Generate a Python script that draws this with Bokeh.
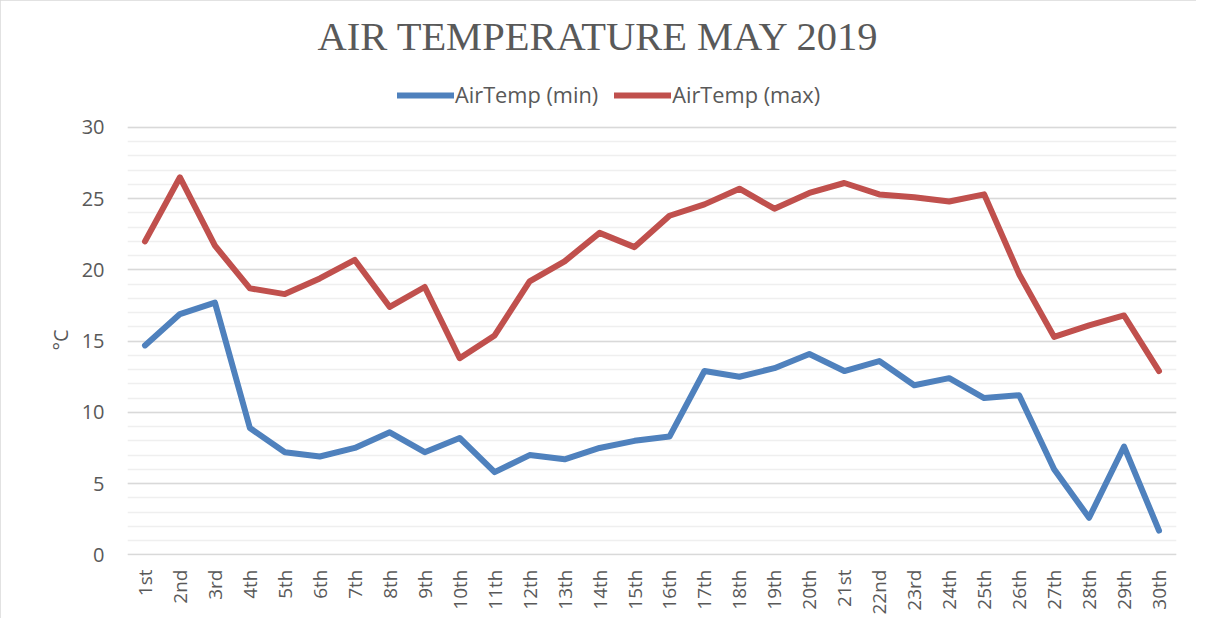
import math
from bokeh.plotting import figure
from bokeh.models import Legend, LegendItem, SingleIntervalTicker, Range1d, FactorRange, Title
from bokeh.embed import file_html
from bokeh.resources import INLINE

days = ["1st", "2nd", "3rd", "4th", "5th", "6th", "7th", "8th", "9th", "10th",
        "11th", "12th", "13th", "14th", "15th", "16th", "17th", "18th", "19th", "20th",
        "21st", "22nd", "23rd", "24th", "25th", "26th", "27th", "28th", "29th", "30th"]
air_min = [14.7, 16.9, 17.7, 8.9, 7.2, 6.9, 7.5, 8.6, 7.2, 8.2,
           5.8, 7.0, 6.7, 7.5, 8.0, 8.3, 12.9, 12.5, 13.1, 14.1,
           12.9, 13.6, 11.9, 12.4, 11.0, 11.2, 6.0, 2.6, 7.6, 1.7]
air_max = [22.0, 26.5, 21.7, 18.7, 18.3, 19.4, 20.7, 17.4, 18.8, 13.8,
           15.4, 19.2, 20.6, 22.6, 21.6, 23.8, 24.6, 25.7, 24.3, 25.4,
           26.1, 25.3, 25.1, 24.8, 25.3, 19.7, 15.3, 16.1, 16.8, 12.9]
series_names = ["AirTemp (min)", "AirTemp (max)"]
title_text = "AIR TEMPERATURE MAY 2019"
y_label = "°C"

TXT = "#595959"
FONT = "Open Sans"

p = figure(x_range=FactorRange(*days), y_range=Range1d(-0.05, 34.70),
           width=1196, height=618, output_backend="svg", toolbar_location=None,
           min_border_left=127, min_border_right=20, min_border_bottom=63,
           min_border_top=60, title=title_text)
p.styles = {"outline": "1px solid #d9d9d9", "outline-offset": "-1px"}
p.outline_line_color = None
p.background_fill_color = "white"
p.border_fill_color = "white"

p.title.align = "left"
p.title.offset = 190
p.title.standoff = 4
p.title.text_font = "Liberation Serif"
p.title.text_font_size = "40.5px"
p.title.text_font_style = "normal"
p.title.text_color = TXT

r_min = p.line(days, air_min, line_color="#4F81BD", line_width=6,
               line_cap="round", line_join="round")
r_max = p.line(days, air_max, line_color="#C0504D", line_width=6,
               line_cap="round", line_join="round")

legend = Legend(items=[LegendItem(label=series_names[0], renderers=[r_min]),
                       LegendItem(label=series_names[1], renderers=[r_max])],
                orientation="horizontal", location=(270, 446),
                label_text_font=FONT, label_text_font_size="21.75px",
                label_text_color=TXT, glyph_width=57, glyph_height=20,
                label_standoff=1, spacing=16, padding=4, margin=0,
                border_line_color=None, background_fill_alpha=0)
p.add_layout(legend)

# y axis
p.yaxis.bounds = (0, 30)
p.yaxis.ticker = SingleIntervalTicker(interval=5, num_minor_ticks=5)
p.yaxis.axis_line_color = None
p.yaxis.major_tick_line_color = None
p.yaxis.minor_tick_line_color = None
p.yaxis.major_tick_out = 0
p.yaxis.major_tick_in = 0
p.yaxis.minor_tick_out = 0
p.yaxis.major_label_standoff = 23
p.yaxis.major_label_text_font = FONT
p.yaxis.major_label_text_font_size = "20px"
p.yaxis.major_label_text_color = TXT

ylab = Title(text=y_label, align="left", offset=205, standoff=10,
             text_font=FONT, text_font_size="20px", text_font_style="normal",
             text_color=TXT)
p.add_layout(ylab, "left")

# x axis
p.xaxis.axis_line_color = None
p.xaxis.major_tick_line_color = None
p.xaxis.major_tick_out = 0
p.xaxis.major_tick_in = 0
p.xaxis.major_label_orientation = math.pi / 2
p.xaxis.major_label_standoff = 14
p.xaxis.major_label_text_font = FONT
p.xaxis.major_label_text_font_size = "19px"
p.xaxis.major_label_text_color = TXT

# grid
p.xgrid.grid_line_color = None
p.ygrid.bounds = (0, 30)
p.ygrid.grid_line_color = "#d9d9d9"
p.ygrid.grid_line_width = 1.5
p.ygrid.minor_grid_line_color = "#efefef"
p.ygrid.minor_grid_line_width = 1.5

open("out.html", "w").write(file_html(p, INLINE))
